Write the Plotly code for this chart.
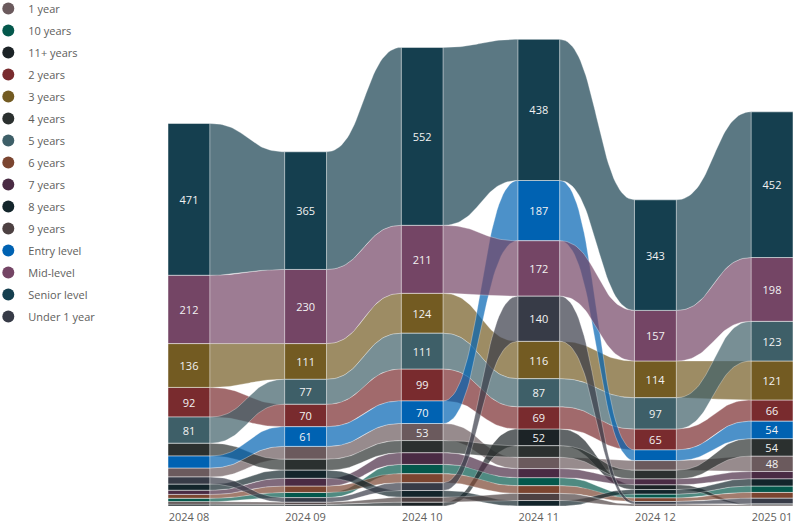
import numpy as np
import plotly.graph_objects as go

months = ["2024 08", "2024 09", "2024 10", "2024 11", "2024 12", "2025 01"]

series_names = ["1 year", "10 years", "11+ years", "2 years", "3 years", "4 years",
                "5 years", "6 years", "7 years", "8 years", "9 years",
                "Entry level", "Mid-level", "Senior level", "Under 1 year"]

one_year = [28, 40, 53, 35, 30, 48]
ten_years = [11, 16, 29, 25, 12, 20]
eleven_plus_years = [6, 5, 12, 52, 15, 4]
two_years = [92, 70, 99, 69, 65, 66]
three_years = [136, 111, 124, 116, 114, 121]
four_years = [40, 34, 38, 36, 27, 54]
five_years = [81, 77, 111, 87, 97, 123]
six_years = [12, 20, 28, 24, 11, 18]
seven_years = [13, 24, 36, 28, 18, 23]
eight_years = [19, 25, 21, 17, 14, 22]
nine_years = [7, 7, 15, 22, 6, 3]
entry_level = [37, 61, 70, 187, 33, 54]
mid_level = [212, 230, 211, 172, 157, 198]
senior_level = [471, 365, 552, 438, 343, 452]
under_one_year = [22, 14, 24, 140, 8, 17]

series_colors = ["#6B5A5D", "#04584C", "#1C2326", "#792B2E", "#735B22", "#2B302F",
                 "#3E5F68", "#7B4530", "#4A2B44", "#13252B", "#4D4142",
                 "#0062B2", "#744565", "#153F4F", "#373B47"]

values = [one_year, ten_years, eleven_plus_years, two_years, three_years, four_years,
          five_years, six_years, seven_years, eight_years, nine_years,
          entry_level, mid_level, senior_level, under_one_year]

n = len(series_names)
m = len(months)
bar_w = 0.36
label_min = 45

bottoms = np.zeros((n, m))
tops = np.zeros((n, m))
for j in range(m):
    order = sorted(range(n), key=lambda k: (values[k][j], k))
    cum = 0.0
    for k in order:
        bottoms[k, j] = cum
        cum += values[k][j]
        tops[k, j] = cum


def rgba(h, a):
    h = h.lstrip("#")
    r, g, b = int(h[0:2], 16), int(h[2:4], 16), int(h[4:6], 16)
    return f"rgba({r},{g},{b},{a})"


def scurve(x0, y0, x1, y1, npts=40):
    t = np.linspace(0, 1, npts)
    xm = (x0 + x1) / 2
    bx = (1 - t) ** 3 * x0 + 3 * (1 - t) ** 2 * t * xm + 3 * (1 - t) * t ** 2 * xm + t ** 3 * x1
    by = (1 - t) ** 3 * y0 + 3 * (1 - t) ** 2 * t * y0 + 3 * (1 - t) * t ** 2 * y1 + t ** 3 * y1
    return bx, by


fig = go.Figure()

# ribbons
for k in range(n):
    for j in range(m - 1):
        xa = j + bar_w / 2
        xb = j + 1 - bar_w / 2
        tx, ty = scurve(xa, tops[k, j], xb, tops[k, j + 1])
        bx, by = scurve(xb, bottoms[k, j + 1], xa, bottoms[k, j])
        xs = np.concatenate([tx, bx, [tx[0]]])
        ys = np.concatenate([ty, by, [ty[0]]])
        fig.add_trace(go.Scatter(
            x=xs, y=ys, mode="lines", fill="toself",
            fillcolor=rgba(series_colors[k], 0.7),
            line=dict(color="rgba(255,255,255,0.5)", width=0.6),
            hoverinfo="skip", showlegend=False))

# columns
for k in range(n):
    fig.add_trace(go.Bar(
        x=list(range(m)), y=values[k], base=bottoms[k], width=bar_w,
        marker=dict(color=series_colors[k], line=dict(color="rgba(255,255,255,0.8)", width=0.6)),
        text=[str(v) if v >= label_min else "" for v in values[k]],
        textposition="inside", insidetextanchor="middle", textangle=0,
        textfont=dict(color="#F2F2F2", size=11, family="Segoe UI, Open Sans, sans-serif"),
        constraintext="none", cliponaxis=False,
        name=series_names[k], showlegend=False, hoverinfo="skip"))

# legend entries
for k in range(n):
    fig.add_trace(go.Scatter(
        x=[None], y=[None], mode="markers",
        marker=dict(color=series_colors[k], size=10, symbol="circle"),
        name=series_names[k], legendgroup=series_names[k], showlegend=True))

fig.update_layout(
    width=808, height=529,
    margin=dict(l=168, r=15, t=30, b=23, autoexpand=False),
    plot_bgcolor="white", paper_bgcolor="white",
    barmode="overlay",
    font=dict(family="Segoe UI, Open Sans, sans-serif", color="#605E5C", size=11),
    showlegend=True,
    legend=dict(
        xref="paper", yref="paper",
        x=-0.2875, y=1.0756, xanchor="left", yanchor="top",
        maxheight=420,
        traceorder="grouped", tracegroupgap=3,
        font=dict(size=11, color="#605E5C", family="Segoe UI, Open Sans, sans-serif"),
        itemsizing="constant", bgcolor="rgba(0,0,0,0)"),
    xaxis=dict(range=[-bar_w / 2, m - 1 + bar_w / 2], tickmode="array",
               tickvals=list(range(m)), ticktext=months, showgrid=False,
               zeroline=False, showline=False, ticks="", fixedrange=True,
               ticklabelstandoff=3,
               tickfont=dict(size=11, color="#605E5C")),
    yaxis=dict(range=[0, 1477], visible=False, showgrid=False, zeroline=False,
               fixedrange=True),
)

fig.write_html("out.html", config={"displayModeBar": False},
               post_script="document.body.style.margin='0';")
